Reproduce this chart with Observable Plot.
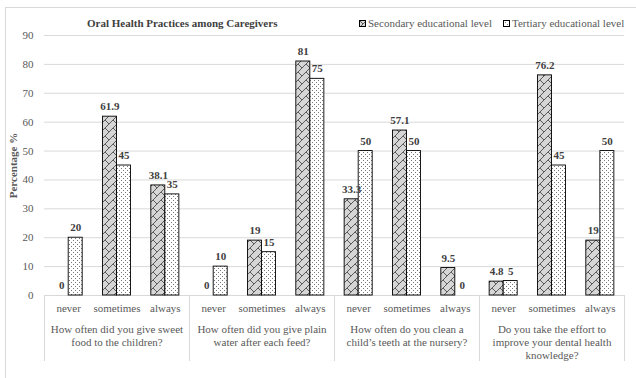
<!DOCTYPE html>
<html><head><meta charset="utf-8">
<script src="https://cdn.jsdelivr.net/npm/d3@7"></script>
<script src="https://cdn.jsdelivr.net/npm/@observablehq/plot@0.6"></script>
<style>
body{margin:0;background:#fff;}
#wrap{position:relative;width:636px;height:378px;overflow:hidden;font-family:"Liberation Serif","Times New Roman",serif;}
#box{position:absolute;left:5px;top:7px;width:800px;height:600px;border-left:1px solid #d9d9d9;border-top:1px solid #d9d9d9;}
#title{position:absolute;left:87px;top:17px;font-weight:bold;font-size:11px;line-height:13px;color:#404040;white-space:nowrap;}
#legend{position:absolute;left:359px;top:17px;font-size:11px;line-height:13px;color:#595959;display:flex;align-items:center;white-space:nowrap;}
#legend .sw{display:inline-block;width:7px;height:7px;margin-right:2px;}
#legend .item{display:flex;align-items:center;margin-right:11px;}
#chart{position:absolute;left:0;top:0;}
#chart svg text{font-family:"Liberation Serif","Times New Roman",serif;}
</style></head>
<body>
<svg width="0" height="0" style="position:absolute">
  <defs>
    <pattern id="patSec" patternUnits="userSpaceOnUse" width="8" height="8">
      <rect width="8" height="8" fill="#d6d6d6"></rect>
      <path d="M-1,9 L9,-1 M0,0 L4,4 M4,12 L8,8" stroke="#3a3a3a" stroke-width="0.8" fill="none"></path>
    </pattern>
    <pattern id="patTer" patternUnits="userSpaceOnUse" width="4" height="4">
      <rect width="4" height="4" fill="#ffffff"></rect>
      <rect x="0" y="0" width="1" height="1" fill="#777"></rect>
      <rect x="2" y="2" width="1" height="1" fill="#777"></rect>
    </pattern>
  </defs>
</svg>
<div id="wrap">
  <div id="box"></div>
  <div id="chart"></div>
  <div id="title">Oral Health Practices among Caregivers</div>
  <div id="legend">
    <span class="item"><svg class="sw" width="7" height="7"><rect x="0.5" y="0.5" width="6" height="6" fill="url(#patSec)" stroke="#000" stroke-width="1"></rect></svg>Secondary educational level</span>
    <span class="item"><svg class="sw" width="7" height="7"><rect x="0.5" y="0.5" width="6" height="6" fill="url(#patTer)" stroke="#000" stroke-width="1"></rect></svg>Tertiary educational level</span>
  </div>
</div>
<script>
const questions = ["Q1", "Q2", "Q3", "Q4"];
const questionLabels = [
  "How often did you give sweet\nfood to the children?",
  "How often did you give plain\nwater after each feed?",
  "How often do you clean a\nchild\u2019s teeth at the nursery?",
  "Do you take the effort to\nimprove your dental health\nknowledge?"
];
const responses = ["never", "sometimes", "always"];
const series = ["Secondary educational level", "Tertiary educational level"];
const secondary = [
  [0, 61.9, 38.1],
  [0, 19, 81],
  [33.3, 57.1, 9.5],
  [4.8, 76.2, 19]
];
const tertiary = [
  [20, 45, 35],
  [10, 15, 75],
  [50, 50, 0],
  [5, 45, 50]
];
const yTicks = [0, 10, 20, 30, 40, 50, 60, 70, 80, 90];

const rows = [];
questions.forEach((q, qi) => {
  responses.forEach((r, ri) => {
    rows.push({question: q, response: r, series: series[0], value: secondary[qi][ri]});
    rows.push({question: q, response: r, series: series[1], value: tertiary[qi][ri]});
  });
});

const W = 636, H = 378, mL = 43, mR = 12, mT = 35, mB = 83;
const pIn = 0.42, pOut = 0.21;
const facetW = (W - mL - mR) / questions.length;
const step = facetW / (responses.length - pIn + 2 * pOut);
const bw = step * (1 - pIn);
const half = bw / 2;
const FONT = "Liberation Serif, Times New Roman, serif";

const sec = rows.filter(d => d.series === series[0]);
const ter = rows.filter(d => d.series === series[1]);

const plot = Plot.plot({
  width: W, height: H,
  marginTop: mT, marginBottom: mB, marginLeft: mL, marginRight: mR,
  style: {fontFamily: FONT, fontSize: "11px", color: "#595959", background: "transparent", overflow: "visible"},
  fx: {domain: questions, padding: 0, label: null},
  x: {domain: responses, paddingInner: pIn, paddingOuter: pOut, round: false, label: null},
  y: {domain: [0, 90], label: "Percentage %"},
  marks: [
    Plot.gridY(yTicks, {stroke: "#d9d9d9", strokeOpacity: 1}),
    Plot.axisY(yTicks, {tickSize: 0, tickPadding: 11, label: "Percentage %", labelAnchor: "center", labelOffset: 35, labelArrow: "none", fontSize: 11}),
    Plot.ruleY([0], {stroke: "#d9d9d9"}),
    Plot.frame({anchor: "left", insetTop: H - mT - mB, insetBottom: -65, stroke: "#d9d9d9"}),
    Plot.frame({anchor: "right", insetTop: H - mT - mB, insetBottom: -65, stroke: "#d9d9d9"}),
    Plot.barY(sec.filter(d => d.value > 0), {fx: "question", x: "response", y: "value", fill: "url(#patSec)", stroke: "#000", strokeWidth: 0.9, insetRight: half}),
    Plot.barY(ter.filter(d => d.value > 0), {fx: "question", x: "response", y: "value", fill: "url(#patTer)", stroke: "#000", strokeWidth: 0.9, insetLeft: half}),
    Plot.text(sec, {fx: "question", x: "response", y: "value", text: d => String(d.value), dx: -bw / 4, dy: -10, fontWeight: "bold", fill: "#404040", fontSize: 11}),
    Plot.text(ter, {fx: "question", x: "response", y: "value", text: d => String(d.value), dx: bw / 4, dy: -10, fontWeight: "bold", fill: "#404040", fontSize: 11}),
    Plot.axisX({anchor: "bottom", tickSize: 0, tickPadding: 9, fontSize: 11, label: null}),
    Plot.axisFx({anchor: "bottom", tickSize: 0, tickPadding: 29, fontSize: 11, lineHeight: 1.15, label: null,
      tickFormat: d => questionLabels[questions.indexOf(d)]})
  ]
});
d3.select(plot).selectAll('g[aria-label="y-axis label"] text').attr("font-weight", "bold");
document.getElementById("chart").appendChild(plot);
</script>
</body></html>
